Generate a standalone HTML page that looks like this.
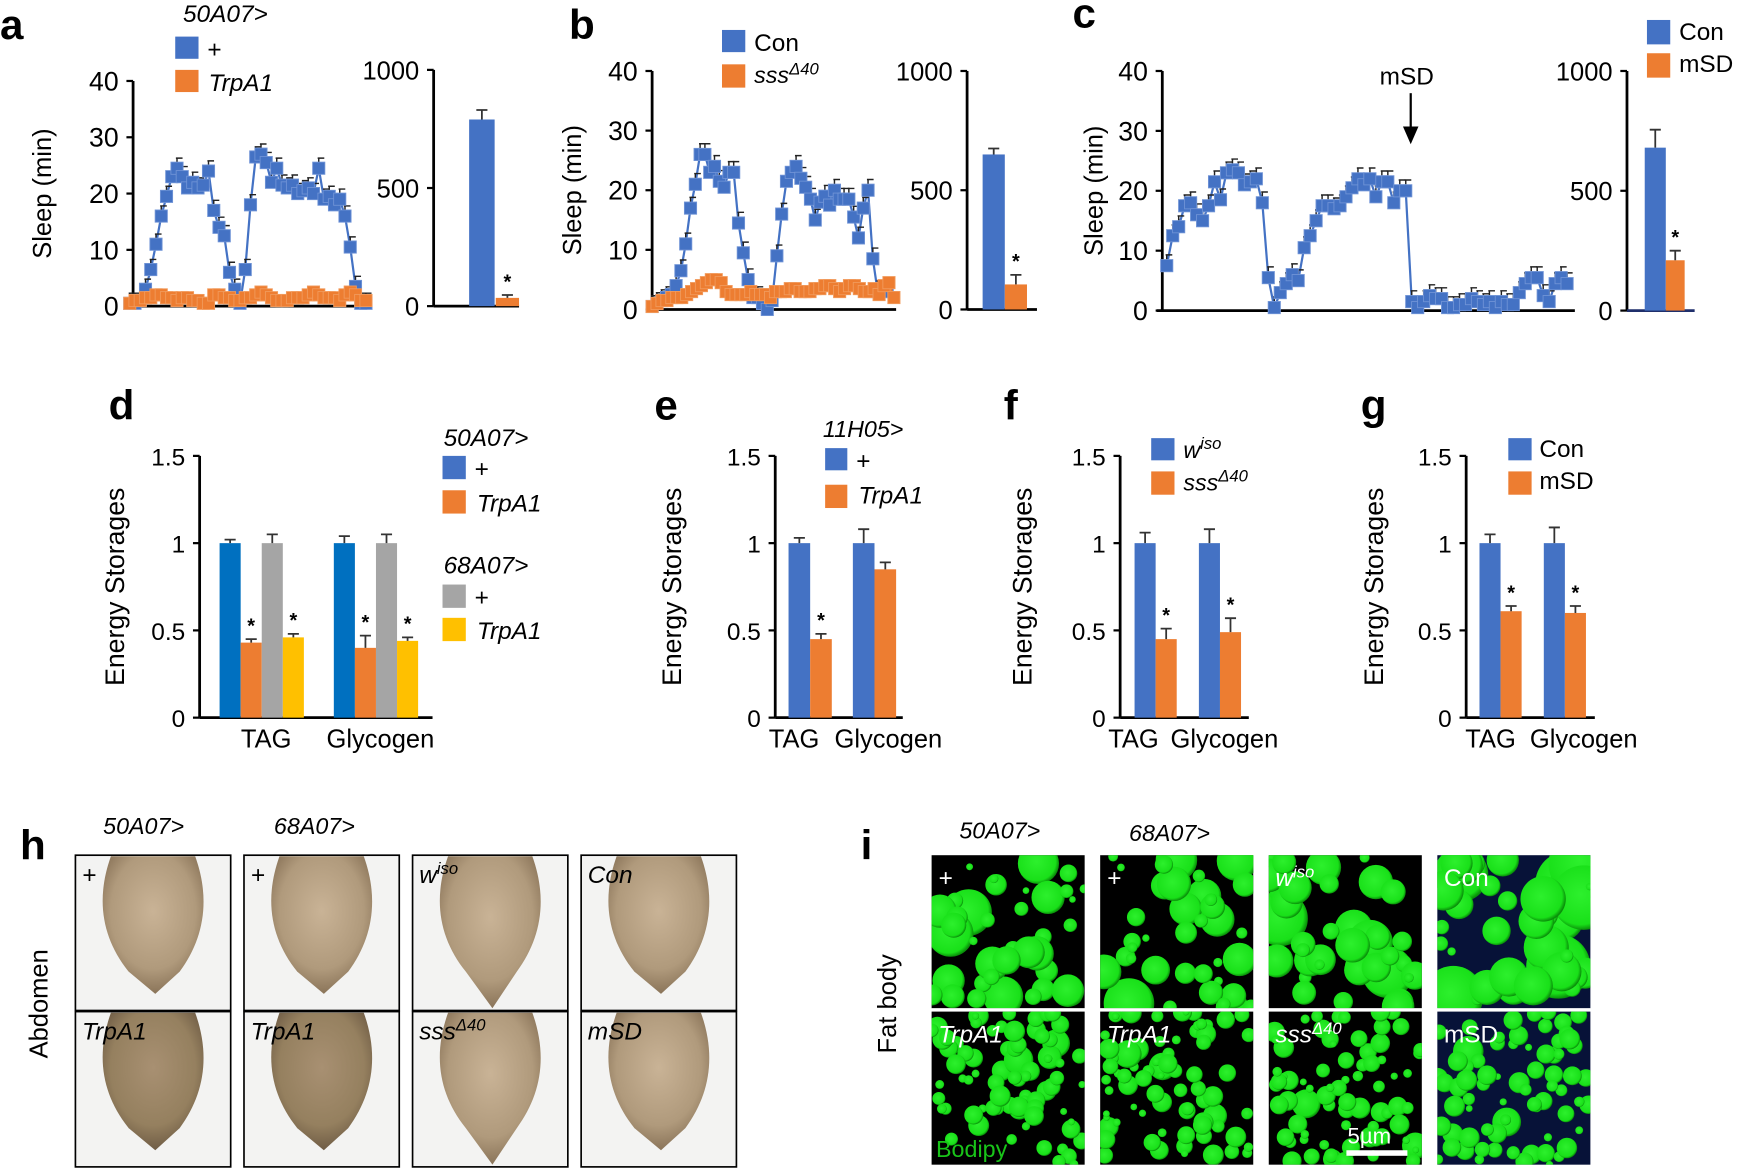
<!DOCTYPE html>
<html><head><meta charset="utf-8">
<style>
html,body{margin:0;padding:0;background:#fff;}
svg{display:block;font-family:"Liberation Sans",Arial,sans-serif;}
</style></head>
<body>
<svg id="fig" xmlns="http://www.w3.org/2000/svg" width="1739" height="1168" viewBox="0 0 1568 1053" preserveAspectRatio="none">
<defs>
<radialGradient id="tan" cx="50%" cy="40%" r="60%"><stop offset="0" stop-color="#c9b396"/><stop offset="0.7" stop-color="#b09a7c"/><stop offset="1" stop-color="#8a7459"/></radialGradient>
<radialGradient id="tanD" cx="50%" cy="40%" r="60%"><stop offset="0" stop-color="#a89072"/><stop offset="0.7" stop-color="#95805f"/><stop offset="1" stop-color="#6f5c45"/></radialGradient>
<radialGradient id="blob" cx="45%" cy="45%" r="55%"><stop offset="0" stop-color="#2df02d"/><stop offset="0.85" stop-color="#19e019"/><stop offset="1" stop-color="#0a900a"/></radialGradient>
</defs>
<g id="root"></g>
<g font-weight="bold" font-size="38" fill="#000">
<text x="0" y="35">a</text>
<text x="513" y="35">b</text>
<text x="967" y="25">c</text>
<text x="98" y="378">d</text>
<text x="590" y="378">e</text>
<text x="905" y="378">f</text>
<text x="1227" y="378">g</text>
<text x="18" y="775">h</text>
<text x="776" y="775">i</text>
</g>
<g font-size="22" fill="#000">
<text x="165" y="20" font-style="italic">50A07&gt;</text>
<rect x="158" y="33" width="21" height="20" fill="#4472C4"/>
<text x="187" y="52">+</text>
<rect x="158" y="63" width="21" height="20" fill="#ED7D31"/>
<text x="188" y="82" font-style="italic">TrpA1</text>
<rect x="651" y="27" width="21" height="20" fill="#4472C4"/>
<text x="680" y="46">Con</text>
<rect x="651" y="58" width="21" height="21" fill="#ED7D31"/>
<text x="680" y="75" font-style="italic" font-size="21">sss<tspan dy="-8" font-size="15">Δ40</tspan></text>
<rect x="1485" y="18" width="21" height="22" fill="#4472C4"/>
<text x="1514" y="36">Con</text>
<rect x="1485" y="48" width="21" height="22" fill="#ED7D31"/>
<text x="1514" y="65">mSD</text>
<text x="1244" y="76">mSD</text>
<line x1="1272" y1="84" x2="1272" y2="118" stroke="#000" stroke-width="2"/>
<path d="M1265 114 L1279 114 L1272 130 Z" fill="#000"/>
<text x="400" y="402" font-style="italic">50A07&gt;</text>
<rect x="399" y="411" width="21" height="21" fill="#4472C4"/>
<text x="428" y="430">+</text>
<rect x="399" y="442" width="21" height="21" fill="#ED7D31"/>
<text x="430" y="461" font-style="italic">TrpA1</text>
<text x="400" y="517" font-style="italic">68A07&gt;</text>
<rect x="399" y="527" width="21" height="21" fill="#A5A5A5"/>
<text x="428" y="546">+</text>
<rect x="399" y="557" width="21" height="21" fill="#FFC000"/>
<text x="430" y="576" font-style="italic">TrpA1</text>
<text x="742" y="394" font-style="italic" font-size="21">11H05&gt;</text>
<rect x="744" y="404" width="20" height="20" fill="#4472C4"/>
<text x="772" y="423">+</text>
<rect x="744" y="437" width="20" height="21" fill="#ED7D31"/>
<text x="774" y="454" font-style="italic">TrpA1</text>
<rect x="1038" y="395" width="21" height="20" fill="#4472C4"/>
<text x="1067" y="413" font-style="italic" font-size="21">w<tspan dy="-8" font-size="15">iso</tspan></text>
<rect x="1038" y="425" width="21" height="21" fill="#ED7D31"/>
<text x="1067" y="442" font-style="italic" font-size="21">sss<tspan dy="-8" font-size="15">Δ40</tspan></text>
<rect x="1360" y="395" width="21" height="20" fill="#4472C4"/>
<text x="1388" y="412">Con</text>
<rect x="1360" y="425" width="21" height="21" fill="#ED7D31"/>
<text x="1388" y="441">mSD</text>
<text x="93" y="752" font-style="italic" font-size="21">50A07&gt;</text>
<text x="247" y="752" font-style="italic" font-size="21">68A07&gt;</text>
<text x="865" y="756" font-style="italic" font-size="21">50A07&gt;</text>
<text x="1018" y="758" font-style="italic" font-size="21">68A07&gt;</text>
<text transform="translate(43 905) rotate(-90)" text-anchor="middle" font-size="23">Abdomen</text>
<text transform="translate(808 905) rotate(-90)" text-anchor="middle" font-size="23">Fat body</text>
</g>
<g id="photos"></g>
</svg>
<script>
const sleepTicks=[0,10,20,30,40];
const totalTicks=[0,500,1000];
const energyTicks=[0,0.5,1,1.5];
const energyTickLabels=['0','0.5','1','1.5'];
const aBlue=[0.5,0.5,1,3,6.5,11,16,19.5,23,24.5,23,21,22,21,21.5,24,17,14,12.5,6,3,0.5,6.5,18,26.5,27,25.5,22,24.5,21.5,21,21.5,20,20.5,21,20,24.5,19,19.5,18,19,16,10.5,3.5,0.5,0.5];
const aOrange=[0.5,1,1,1.5,1.5,2,2,1.5,1.5,1,1.5,1.5,1,1,0.5,0.5,2,2,1.5,1.5,1,1,1.5,1.5,2,2.5,2,1.5,1,1,1,1.5,1.5,1.5,2,2.5,2,1.5,1.5,1.5,1,2,2.5,2,1,1];
const bBlue=[0.5,1,1.5,2,2.5,4,6.5,11,17,21,26,26,23,24,21.5,20.5,23,23,14.5,9.5,5,2,2,1,0,1.5,9,16,21.5,23,24,22,20.5,18.5,15,18,19,17.5,20,18.5,18.5,18.5,15.5,12,17,20,8.5,3,3,3];
const bOrange=[0.5,1,1.5,1.5,2,2,2,2.5,3,3.5,4,4.5,5,5,4.5,3,2.5,2.5,2.5,2.5,3,2.5,2.5,2.5,2,3,3,3,3.5,3.5,3,3,3,3.5,3.5,4,4,3.5,3,3.5,4,4,3.5,3,3,3.5,2.5,4,4.5,2];
const cBlue=[7.5,12.5,14,17.5,18,16,15,17.5,21.5,18.5,23,23.5,23,21,21.5,22,18,5.5,0.5,3,4.5,6,5,10.5,12.5,15,17.5,17.5,17,17.5,19,20.5,22,21,22,19,21.5,21.5,18,20,20,1.5,0.5,1.5,2.5,2,2,0.5,0.5,1,1,2,1.5,1,1.5,0.5,1.5,1,1,3,4.5,5.5,5.5,2.5,1.5,4.5,5.5,4.5];
const aTotal=[790,35], aTotalErr=[40,12];
const bTotal=[650,105], bTotalErr=[25,40];
const cTotal=[680,210], cTotalErr=[75,40];
const energyCats=['TAG','Glycogen'];
const dPlus50=[1,1], dPlus50Err=[0.02,0.04];
const dTrp50=[0.43,0.40], dTrp50Err=[0.02,0.07];
const dPlus68=[1,1], dPlus68Err=[0.05,0.05];
const dTrp68=[0.46,0.44], dTrp68Err=[0.02,0.02];
const ePlus=[1,1], ePlusErr=[0.03,0.08];
const eTrp=[0.45,0.85], eTrpErr=[0.03,0.04];
const fW=[1,1], fWErr=[0.06,0.08];
const fS=[0.45,0.49], fSErr=[0.06,0.08];
const gCon=[1,1], gConErr=[0.05,0.09];
const gMsd=[0.61,0.60], gMsdErr=[0.03,0.04];

const NS='http://www.w3.org/2000/svg';
const root=document.getElementById('root');
function mk(tag,attrs,parent){const e=document.createElementNS(NS,tag);for(const k in attrs)e.setAttribute(k,attrs[k]);(parent||root).appendChild(e);return e;}
function linY(y0,y1,max){return v=>y0-(y0-y1)*v/max;}

function yAxis(x,yb,yt,ticks,labels,max,fs,name,yTitle,titleX,titleFs){
  const y=linY(yb,yt,max);
  let el=mk('line',{x1:x,y1:y(max),x2:x,y2:yb,stroke:'#000','stroke-width':2.5});
  
  
  ticks.forEach((t,i)=>{
    const tk=mk('line',{x1:x-6,y1:y(t),x2:x,y2:y(t),stroke:'#000','stroke-width':2});
    
    
    const tl=mk('text',{x:x-13,y:y(t)+8.5,'text-anchor':'end','font-size':fs});
    tl.textContent=labels?labels[i]:String(t);
    
    
  });
  if(yTitle){
    const tt=mk('text',{transform:'translate('+titleX+' '+((yb+y(max))/2)+') rotate(-90)','text-anchor':'middle','font-size':titleFs||23});
    tt.textContent=yTitle;
    
    
  }
  return y;
}
function xAxis(x0,x1,yb,name,color){
  const el=mk('line',{x1:x0,y1:yb,x2:x1,y2:yb,stroke:color||'#000','stroke-width':2.5});
  
  
}
function series(vals,xf,xl,y,color,err,name){
  const n=vals.length, dx=(xl-xf)/(n-1);
  const pts=vals.map((v,i)=>[xf+i*dx,y(v)]);
  const pl=mk('polyline',{points:pts.map(p=>p.join(',')).join(' '),fill:'none',stroke:color,'stroke-width':2});
  
  
  vals.forEach((v,i)=>{
    const px=pts[i][0], top=y(v+err);
    const eb=mk('path',{d:'M'+px+' '+pts[i][1]+' V'+top+' M'+(px-1)+' '+top+' H'+(px+5),stroke:'#222','stroke-width':1.3,fill:'none'});
    
    
  });
  vals.forEach((v,i)=>{
    const r=mk('rect',{x:pts[i][0]-5.5,y:pts[i][1]-5.5,width:11,height:11,fill:color,stroke:color==='#4472C4'?'#6f93d6':'#f19a5c','stroke-width':0.8});
    
    
  });
}
function bar(x,w,v,e,y,yb,color,name,star){
  const r=mk('rect',{x:x,y:y(v),width:w,height:yb-y(v),fill:color});
  
  
  const cx=x+w/2, top=y(v+e);
  const eb=mk('path',{d:'M'+cx+' '+y(v)+' V'+top+' M'+(cx-5)+' '+top+' H'+(cx+5),stroke:'#333','stroke-width':1.6,fill:'none'});
  
  
  if(star){
    const s=mk('text',{x:cx,y:top-6,'text-anchor':'middle','font-size':18,'font-weight':'bold'});
    s.textContent='*';
    
    
  }
}
// panel a
let ya=yAxis(120,276,73,sleepTicks,null,40,24,'a-sleep','Sleep (min)',46);
xAxis(113,333,276,'a-sleep');
series(aBlue,117,330,ya,'#4472C4',1.8,'a-plus');
series(aOrange,117,330,ya,'#ED7D31',0.8,'a-trpa1');
let yaT=yAxis(391,276,63,totalTicks,null,1000,23,'a-total');
xAxis(391,468,276,'a-total');
bar(423,23,aTotal[0],aTotalErr[0],yaT,276,'#4472C4','a-total-bar-plus',false);
bar(447,21,aTotal[1],aTotalErr[1],yaT,276,'#ED7D31','a-total-bar-trpa1',true);
// panel b
let yb=yAxis(588,279,64,sleepTicks,null,40,24,'b-sleep','Sleep (min)',524);
xAxis(583,808,279,'b-sleep');
series(bBlue,588,800,yb,'#4472C4',1.8,'b-con');
series(bOrange,588,806,yb,'#ED7D31',0.7,'b-sss');
let ybT=yAxis(872,279,64,totalTicks,null,1000,23,'b-total');
xAxis(872,935,279,'b-total');
bar(886,20,bTotal[0],bTotalErr[0],ybT,279,'#4472C4','b-total-bar-con',false);
bar(906,20,bTotal[1],bTotalErr[1],ybT,279,'#ED7D31','b-total-bar-sss',true);
// panel c
let yc=yAxis(1048,280,64,sleepTicks,null,40,24,'c-sleep','Sleep (min)',994);
xAxis(1043,1420,280,'c-sleep');
series(cBlue,1052,1413,yc,'#4472C4',1.8,'c-con');
let ycT=yAxis(1467,280,64,totalTicks,null,1000,23,'c-total');
xAxis(1467,1528,280,'c-total','#1f2f6b');
bar(1483,19,cTotal[0],cTotalErr[0],ycT,280,'#4472C4','c-total-bar-con',false);
bar(1502,17,cTotal[1],cTotalErr[1],ycT,280,'#ED7D31','c-total-bar-msd',true);
// energy panels
function energy(name,ax,axEnd,g0,gs,bw,seriesList,catXs,titleX){
  const y=yAxis(ax,647,411,energyTicks,energyTickLabels,1.5,22,name,'Energy Storages',titleX,24);
  xAxis(ax,axEnd,647,name);
  energyCats.forEach((c,gi)=>{
    seriesList.forEach((s,si)=>{
      bar(g0+gi*gs+si*bw,bw,s.v[gi],s.e[gi],y,647,s.c,name+'-bar-'+c.toLowerCase()+'-'+s.n,s.star&&s.star[gi]);
    });
    const t=mk('text',{x:catXs[gi],y:674,'text-anchor':'middle','font-size':23});
    t.textContent=c;
    
    
  });
}
energy('d',180,390,198,103,19,[{v:dPlus50,e:dPlus50Err,c:'#0070C0',n:'plus50'},{v:dTrp50,e:dTrp50Err,c:'#ED7D31',n:'trpa1-50',star:[1,1]},{v:dPlus68,e:dPlus68Err,c:'#A5A5A5',n:'plus68'},{v:dTrp68,e:dTrp68Err,c:'#FFC000',n:'trpa1-68',star:[1,1]}],[240,343],112);
energy('e',699,814,711,58,19.5,[{v:ePlus,e:ePlusErr,c:'#4472C4',n:'plus'},{v:eTrp,e:eTrpErr,c:'#ED7D31',n:'trpa1',star:[1,0]}],[716,801],614);
energy('f',1010,1126,1023,58,19,[{v:fW,e:fWErr,c:'#4472C4',n:'wiso'},{v:fS,e:fSErr,c:'#ED7D31',n:'sss',star:[1,1]}],[1022,1104],930);
energy('g',1322,1438,1334,58,19,[{v:gCon,e:gConErr,c:'#4472C4',n:'con'},{v:gMsd,e:gMsdErr,c:'#ED7D31',n:'msd',star:[1,1]}],[1344,1428],1247);
// photos h
const ph=document.getElementById('photos');
const hCols=[68,220,372,524], hRows=[771,912];
const hLabels=[['+','+','w','Con'],['TrpA1','TrpA1','sss','mSD']];
hRows.forEach((ry,ri)=>hCols.forEach((cx,ci)=>{
  const bg=mk('rect',{x:cx,y:ry,width:140,height:140,fill:'#f3f3f2',stroke:'#000','stroke-width':1.5},ph);
  
  
  const tip=ry+(ci===2?138:125);
  const b=mk('path',{d:'M'+(cx+32)+' '+(ry+1)+' L'+(cx+108)+' '+(ry+1)+' C'+(cx+122)+' '+(ry+40)+' '+(cx+116)+' '+(ry+75)+' '+(cx+94)+' '+(ry+105)+' L'+(cx+72)+' '+tip+' L'+(cx+48)+' '+(ry+105)+' C'+(cx+24)+' '+(ry+75)+' '+(cx+18)+' '+(ry+40)+' '+(cx+32)+' '+(ry+1)+' Z',fill:(ri===1&&ci<2)?'url(#tanD)':'url(#tan)'},ph);
  
  
  const t=mk('text',{x:cx+6,y:ry+25,'font-size':22,'font-style':'italic'},ph);
  t.textContent=hLabels[ri][ci];
  if(ci===2){const s=mk('tspan',{dy:-8,'font-size':15},t);s.textContent=ri===0?'iso':'Δ40';}
  
  
}));
// fat body i
const iCols=[840,992,1144,1296], iRows=[771,912];
const iLabels=[['+','+','w','Con'],['TrpA1','TrpA1','sss','mSD']];
let seed=7;function rnd(){seed=(seed*16807)%2147483647;return seed/2147483647;}
iRows.forEach((ry,ri)=>iCols.forEach((cx,ci)=>{
  const cp=mk('clipPath',{id:'cp'+ri+ci},ph);
  mk('rect',{x:cx,y:ry,width:138,height:138},cp);
  const bg=mk('rect',{x:cx,y:ry,width:138,height:138,fill:ci===3?'#071238':'#000'},ph);
  
  
  const g=mk('g',{'clip-path':'url(#cp'+ri+ci+')'},ph);
  const n=ri===0?40:75, maxR=ri===0?(ci===3?30:22):11;
  for(let k=0;k<n;k++){
    const r=3+rnd()*maxR*(k<8?1:0.6);
    mk('circle',{cx:cx+rnd()*138,cy:ry+rnd()*138,r:r,fill:'url(#blob)'},g);
  }
  const t=mk('text',{x:cx+6,y:ry+28,'font-size':22,fill:'#fff','font-style':(ci===3)?'normal':'italic'},ph);
  t.textContent=iLabels[ri][ci];
  if(ci===2){const s=mk('tspan',{dy:-8,'font-size':15},t);s.textContent=ri===0?'iso':'Δ40';}
  
  
}));
let bt=mk('text',{x:844,y:1043,'font-size':21,fill:'#19c419'},ph);
bt.textContent='Bodipy';


let sbt=mk('text',{x:1215,y:1031,'font-size':20,fill:'#fff'},ph);
sbt.textContent='5µm';


let sb=mk('rect',{x:1214,y:1037,width:55,height:5,fill:'#fff'},ph);


let dv=mk('line',{x1:840,y1:910,x2:1434,y2:910,stroke:'#fff','stroke-width':2},ph);


</script>
</body></html>
